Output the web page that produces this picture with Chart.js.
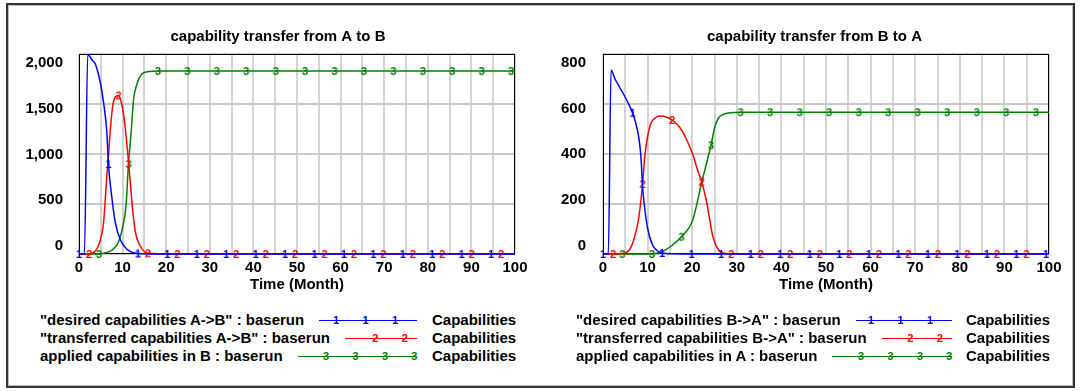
<!DOCTYPE html>
<html lang="en">
<head>
<meta charset="UTF-8" />
<title>Capability transfer</title>
<script src="https://cdn.jsdelivr.net/npm/chart.js"></script>
<style>
  html, body { margin: 0; padding: 0; background: #fff; }
  body { width: 1082px; height: 391px; position: relative; overflow: hidden; font-family: Arial, "Liberation Sans", sans-serif; }
  .frame { position: absolute; left: 6px; top: 3px; width: 1065px; height: 381px; border: 2px solid #333; box-shadow: inset 0 0 0 1px #bbb; }
  canvas { position: absolute; top: 0; }
  .row { position: absolute; height: 18px; line-height: 18px; display: flex; white-space: nowrap; font-weight: bold; font-size: 15px; color: #000; }
  .sample { flex: 1; position: relative; margin-left: 15px; }
  .sample i { position: absolute; left: 0; right: 0; top: 9px; border-top: 1px solid; }
  .sample b { position: absolute; top: 0; font-size: 11px; transform: translateX(50%); }
  .unit { position: absolute; height: 18px; line-height: 18px; font-weight: bold; font-size: 15px; color: #000; }
</style>
</head>
<body>
  <div class="frame"></div>
  <canvas id="chartAB" width="556" height="300" style="left:0"></canvas>
  <canvas id="chartBA" width="547" height="300" style="left:541px"></canvas>
  <div id="legends"></div>

<script>
// ---- data (time in months) ----
const xLabels = [0, 10, 20, 30, 40, 50, 60, 70, 80, 90, 100];
const yTicksAB = [0, 500, 1000, 1500, 2000];
const yTicksBA = [0, 200, 400, 600, 800];

// A -> B
const tDesAB = [0, 1.25, 2, 3, 3.75, 4.9, 5.65, 6.4, 6.75, 7.55, 8.3, 9.5, 11, 12.3, 13.5, 16, 20.25, 27, 33.75, 40.5, 47.25, 54, 60.75, 67.5, 74.25, 81, 87.75, 94.5, 100];
const desAB  = [0, 0, 1995, 1940, 1900, 1710, 1510, 1210, 900, 560, 320, 140, 47, 15, 5, 1, 0, 0, 0, 0, 0, 0, 0, 0, 0, 0, 0, 0, 0];
const mDesAB = [0, 6.75, 13.5, 20.25, 27, 33.75, 40.5, 47.25, 54, 60.75, 67.5, 74.25, 81, 87.75, 94.5];

const tTraAB = [0, 2.3, 3, 4.5, 5.65, 6.05, 6.4, 6.8, 7.2, 7.7, 8.3, 9.05, 9.85, 10.5, 11, 11.4, 11.8, 12.2, 12.9, 14.1, 15, 15.8, 22.55, 29.3, 36.05, 42.8, 49.55, 56.3, 63.05, 69.8, 76.55, 83.3, 90.05, 96.8, 100];
const traAB  = [0, 0, 5, 90, 320, 560, 790, 1010, 1250, 1470, 1570, 1585, 1490, 1300, 1090, 900, 700, 490, 225, 75, 25, 8, 0, 0, 0, 0, 0, 0, 0, 0, 0, 0, 0, 0, 0];
const mTraAB = [2.3, 9.05, 15.8, 22.55, 29.3, 36.05, 42.8, 49.55, 56.3, 63.05, 69.8, 76.55, 83.3, 90.05, 96.8];

const tAppB = [0, 4.6, 6, 7.6, 9.1, 10.25, 10.8, 11.35, 12, 12.5, 13.3, 14.4, 16, 18.1, 24.85, 31.6, 38.35, 45.1, 51.85, 58.6, 65.35, 72.1, 78.85, 85.6, 92.35, 99.1, 100];
const appB  = [0, 0, 12, 40, 125, 320, 490, 900, 1240, 1540, 1700, 1800, 1825, 1830, 1830, 1830, 1830, 1830, 1830, 1830, 1830, 1830, 1830, 1830, 1830, 1830, 1830];
const mAppB = [4.6, 11.35, 18.1, 24.85, 31.6, 38.35, 45.1, 51.85, 58.6, 65.35, 72.1, 78.85, 85.6, 92.35, 99.1];

// B -> A
const tDesBA = [0, 1.2, 1.8, 2.7, 3.66, 4.6, 5.5, 6.62, 7.25, 8, 8.5, 8.9, 9.27, 10, 11.1, 12.1, 13.24, 16, 19.86, 26.48, 33.1, 39.72, 46.34, 52.96, 59.58, 66.2, 72.82, 79.44, 86.06, 92.68, 99.3, 100];
const desBA  = [0, 0, 735, 700, 669, 640, 609, 565, 529, 469, 390, 263, 196, 103, 36, 14, 4, 1, 0, 0, 0, 0, 0, 0, 0, 0, 0, 0, 0, 0, 0, 0];
const mDesBA = [0, 6.62, 13.24, 19.86, 26.48, 33.1, 39.72, 46.34, 52.96, 59.58, 66.2, 72.82, 79.44, 86.06, 92.68, 99.3];

const tTraBA = [0, 2.25, 4.3, 5.9, 7, 8, 8.87, 9.4, 10, 10.76, 11.9, 13, 14.3, 15.49, 17.1, 18.6, 20.1, 21.2, 22.11, 23.1, 23.9, 24.5, 25.2, 25.9, 27, 28.73, 35.35, 41.97, 48.59, 55.21, 61.83, 68.45, 75.07, 81.69, 88.31, 94.93, 100];
const traBA  = [0, 0, 2, 16, 63, 143, 280, 396, 469, 523, 547, 552, 547, 536, 509, 463, 400, 336, 289, 220, 140, 80, 40, 16, 4, 0, 0, 0, 0, 0, 0, 0, 0, 0, 0, 0, 0];
const mTraBA = [2.25, 8.87, 15.49, 22.11, 28.73, 35.35, 41.97, 48.59, 55.21, 61.83, 68.45, 75.07, 81.69, 88.31, 94.93];

const tAppA = [0, 4.35, 10.97, 12.2, 13.4, 15.6, 17.59, 20.1, 22.11, 24.21, 25.1, 25.85, 27, 28.5, 30.83, 37.45, 44.07, 50.69, 57.31, 63.93, 70.55, 77.17, 83.79, 90.41, 97.03, 100];
const appA  = [0, 0, 0, 4, 10, 36, 69, 135, 285, 435, 510, 543, 559, 565, 567, 567, 567, 567, 567, 567, 567, 567, 567, 567, 567, 567];
const mAppA = [4.35, 10.97, 17.59, 24.21, 30.83, 37.45, 44.07, 50.69, 57.31, 63.93, 70.55, 77.17, 83.79, 90.41, 97.03];

const namesAB = ['"desired capabilities A->B" : baserun', '"transferred capabilities A->B" : baserun', 'applied capabilities in B : baserun'];
const namesBA = ['"desired capabilities B->A" : baserun', '"transferred capabilities B->A" : baserun', 'applied capabilities in A : baserun'];
const unitName = 'Capabilities';

const BLUE = '#0000ff', RED = '#ff0000', GREEN = '#008000';
const FONT = 'Arial, "Liberation Sans", sans-serif';

// digit used as the point marker ("1", "2", "3")
function digitImg(d, color) {
  const c = document.createElement('canvas');
  c.width = 10; c.height = 12;
  const g = c.getContext('2d');
  g.font = 'bold 11px ' + FONT;
  g.fillStyle = color;
  g.textAlign = 'center';
  g.textBaseline = 'middle';
  g.fillText(d, 5, 6.5);
  return c;
}

function series(label, t, v, marks, color, digit) {
  return {
    label,
    data: t.map((x, i) => ({ x, y: v[i] })),
    borderColor: color,
    borderWidth: 1.5,
    fill: false,
    cubicInterpolationMode: 'monotone',
    pointStyle: digitImg(digit, color),
    pointRadius: ctx => (ctx.raw && marks.includes(ctx.raw.x)) ? 5 : 0,
    clip: false
  };
}

// black box round the plot area
const plotBorder = {
  id: 'plotBorder',
  beforeDatasetsDraw(chart) {
    const { ctx, chartArea: a } = chart;
    ctx.save();
    ctx.strokeStyle = '#000';
    ctx.lineWidth = 1;
    ctx.strokeRect(a.left + 0.5, a.top + 0.5, a.width - 1, a.height - 1);
    ctx.restore();
  }
};

// lblWidth: room for the y labels, rightRoom: empty space right of the plot
function makeChart(id, title, datasets, yMax, yStep, yTicks, lblMin, lblMax, lblWidth, lblPad, rightRoom) {
  const font = { family: FONT, size: 15, weight: 'bold' };
  return new Chart(document.getElementById(id), {
    type: 'line',
    data: { datasets },
    plugins: [plotBorder],
    options: {
      responsive: false,
      animation: false,
      events: [],
      layout: { padding: { left: 0, right: 0, top: 28, bottom: 0 } },
      plugins: {
        legend: { display: false },
        tooltip: { enabled: false },
        title: { display: true, text: title, color: '#000', font, padding: { top: 0, bottom: 8 } }
      },
      scales: {
        x: {
          type: 'linear', min: 0, max: 100,
          border: { display: false },
          grid: { color: '#d4d4d4', lineWidth: 2, drawTicks: false },
          ticks: {
            stepSize: 5, autoSkip: false, maxRotation: 0, padding: 5, color: '#000', font,
            callback: v => xLabels.includes(v) ? String(v) : ''
          },
          title: { display: true, text: 'Time (Month)', color: '#000', font, padding: { top: 0, bottom: 6 } },
          afterFit: s => { s.height = 46; }
        },
        y: {
          min: 0, max: yMax,
          border: { display: false },
          grid: { color: '#c8c8c8', lineWidth: 2, drawTicks: false },
          ticks: { display: false, stepSize: yStep },
          afterFit: s => { s.width = 0; }
        },
        yl: {
          position: 'left', min: lblMin, max: lblMax,
          border: { display: false },
          grid: { display: false, drawTicks: false },
          ticks: { padding: lblPad, color: '#000', font, callback: v => v.toLocaleString('en-US') },
          afterBuildTicks: s => { s.ticks = yTicks.map(value => ({ value })); },
          afterFit: s => { s.width = lblWidth; }
        },
        yr: {
          position: 'right', min: 0, max: 1,
          border: { display: false },
          grid: { display: false, drawTicks: false },
          ticks: { display: false },
          afterFit: s => { s.width = rightRoom; }
        }
      }
    }
  });
}

makeChart('chartAB', 'capability transfer from A to B', [
  series(namesAB[0], tDesAB, desAB, mDesAB, BLUE, '1'),
  series(namesAB[1], tTraAB, traAB, mTraAB, RED, '2'),
  series(namesAB[2], tAppB, appB, mAppB, GREEN, '3')
], 2000, 500, yTicksAB, -91, 2099, 79, 16, 41);

makeChart('chartBA', 'capability transfer from B to A', [
  series(namesBA[0], tDesBA, desBA, mDesBA, BLUE, '1'),
  series(namesBA[1], tTraBA, traBA, mTraBA, RED, '2'),
  series(namesBA[2], tAppA, appA, mAppA, GREEN, '3')
], 800, 200, yTicksBA, -36, 839, 62, 17, 39);

// ---- legends (Vensim style: name, sample line with digits, unit) ----
const legendColors = [BLUE, RED, GREEN];
const legendDigits = ['1', '2', '3'];
const digitOffsets = [[22, 51.5, 81], [12.3, 41.8], [2.6, 32, 61.5, 91]];

function addLegend(names, left, lineEnd, unitLeft) {
  const host = document.getElementById('legends');
  names.forEach((name, i) => {
    const row = document.createElement('div');
    row.className = 'row';
    row.style.left = left + 'px';
    row.style.top = (311 + i * 18) + 'px';
    row.style.width = (lineEnd - left) + 'px';
    const txt = document.createElement('span');
    txt.textContent = name;
    const sample = document.createElement('span');
    sample.className = 'sample';
    sample.style.color = legendColors[i];
    sample.innerHTML = '<i></i>' + digitOffsets[i].map(o => `<b style="right:${o}px">${legendDigits[i]}</b>`).join('');
    row.append(txt, sample);
    const unit = document.createElement('div');
    unit.className = 'unit';
    unit.style.left = unitLeft + 'px';
    unit.style.top = (311 + i * 18) + 'px';
    unit.textContent = unitName;
    host.append(row, unit);
  });
}

addLegend(namesAB, 40, 417, 432);
addLegend(namesBA, 576, 952, 966);
</script>
</body>
</html>
